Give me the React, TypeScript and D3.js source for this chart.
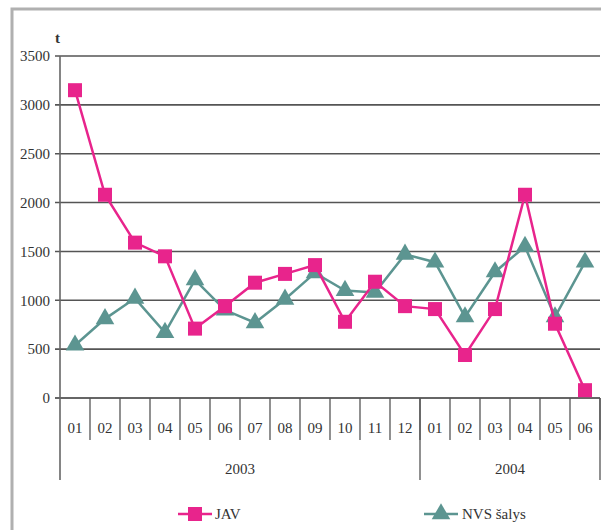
import React, { useRef, useEffect } from "react"
import * as d3 from "d3"

const months = ["01", "02", "03", "04", "05", "06", "07", "08", "09", "10", "11", "12", "01", "02", "03", "04", "05", "06"]
const years = [
  { label: "2003", count: 12 },
  { label: "2004", count: 6 },
]
const javValues = [3150, 2080, 1590, 1450, 710, 940, 1180, 1270, 1360, 780, 1190, 940, 910, 440, 910, 2080, 760, 80]
const nvsValues = [540, 810, 1020, 670, 1210, 900, 770, 1010, 1280, 1100, 1080, 1470, 1390, 830, 1290, 1550, 830, 1390]
const yTicks = [0, 500, 1000, 1500, 2000, 2500, 3000, 3500]

const PINK = "#e8248c"
const TEAL = "#5c9591"
const FONT = "'Liberation Serif', 'Times New Roman', serif"

const App: React.FC = () => {
  const svgRef = useRef<SVGSVGElement | null>(null)
  const width = 601
  const height = 530

  useEffect(() => {
    if (!svgRef.current) return
    const svg = d3.select(svgRef.current)
    svg.selectAll("*").remove()

    const margin = { left: 60, right: 1, top: 56, bottom: 132 }
    const plotW = width - margin.left - margin.right
    const plotH = height - margin.top - margin.bottom

    // outer frame
    svg.append("rect")
      .attr("x", 12).attr("y", 9)
      .attr("width", 620).attr("height", 560)
      .attr("fill", "none").attr("stroke", "#b0b0b0").attr("stroke-width", 3)

    const idx = months.map((_, i) => i)
    const x = d3.scaleBand<number>().domain(idx).range([0, plotW])
    const y = d3.scaleLinear().domain([0, 3500]).range([plotH, 0])

    const g = svg.append("g")
      .attr("transform", `translate(${margin.left},${margin.top})`)
      .style("font-family", FONT)

    // gridlines
    g.selectAll(".grid")
      .data(yTicks)
      .join("line")
      .attr("x1", -5).attr("x2", plotW)
      .attr("y1", (d) => y(d)).attr("y2", (d) => y(d))
      .attr("stroke", (d) => (d === 0 ? "#333" : "#555"))
      .attr("stroke-width", 1.6)

    // y labels
    g.selectAll(".ylab")
      .data(yTicks)
      .join("text")
      .attr("x", -10).attr("y", (d) => y(d))
      .attr("dy", "0.35em")
      .attr("text-anchor", "end")
      .attr("font-size", 15).attr("fill", "#333")
      .text((d) => d)

    g.append("text")
      .attr("x", -5).attr("y", -13)
      .attr("font-size", 15).attr("font-weight", "bold").attr("fill", "#333")
      .text("t")

    // left axis line
    g.append("line")
      .attr("x1", 0).attr("x2", 0).attr("y1", 0).attr("y2", plotH + 82)
      .attr("stroke", "#666").attr("stroke-width", 1.6)

    // month ticks
    g.selectAll(".mtick")
      .data(idx.slice(1).concat([months.length]))
      .join("line")
      .attr("x1", (d) => d * x.step()).attr("x2", (d) => d * x.step())
      .attr("y1", plotH).attr("y2", plotH + 42)
      .attr("stroke", "#555").attr("stroke-width", 1.3)

    g.selectAll(".mlab")
      .data(months)
      .join("text")
      .attr("x", (_, i) => (x(i) ?? 0) + x.bandwidth() / 2)
      .attr("y", plotH + 35)
      .attr("text-anchor", "middle")
      .attr("font-size", 15).attr("fill", "#333")
      .text((d) => d)

    // year separators and labels
    let start = 0
    years.forEach((yr) => {
      const end = start + yr.count
      g.append("line")
        .attr("x1", end * x.step()).attr("x2", end * x.step())
        .attr("y1", plotH).attr("y2", plotH + 82)
        .attr("stroke", "#555").attr("stroke-width", 1.3)
      g.append("text")
        .attr("x", ((start + end) / 2) * x.step())
        .attr("y", plotH + 76)
        .attr("text-anchor", "middle")
        .attr("font-size", 15).attr("fill", "#333")
        .text(yr.label)
      start = end
    })

    const cx = (i: number) => (x(i) ?? 0) + x.bandwidth() / 2
    const line = d3.line<number>().x((_, i) => cx(i)).y((d) => y(d))

    const tri = d3.symbol().type(d3.symbolTriangle).size(150)

    // NVS series
    g.append("path").datum(nvsValues)
      .attr("fill", "none").attr("stroke", TEAL).attr("stroke-width", 2.5).attr("d", line)
    g.selectAll(".nvs")
      .data(nvsValues)
      .join("path")
      .attr("d", tri)
      .attr("transform", (d, i) => `translate(${cx(i)},${y(d)})`)
      .attr("fill", TEAL)

    // JAV series
    g.append("path").datum(javValues)
      .attr("fill", "none").attr("stroke", PINK).attr("stroke-width", 2.5).attr("d", line)
    g.selectAll(".jav")
      .data(javValues)
      .join("rect")
      .attr("x", (_, i) => cx(i) - 7).attr("y", (d) => y(d) - 7)
      .attr("width", 14).attr("height", 14)
      .attr("fill", PINK)

    // legend
    const leg = svg.append("g").attr("transform", `translate(0,514)`).style("font-family", FONT)
    leg.append("line").attr("x1", 178).attr("x2", 212).attr("y1", 0).attr("y2", 0)
      .attr("stroke", PINK).attr("stroke-width", 2.5)
    leg.append("rect").attr("x", 188).attr("y", -7).attr("width", 14).attr("height", 14).attr("fill", PINK)
    leg.append("text").attr("x", 215).attr("y", 0).attr("dy", "0.35em")
      .attr("font-size", 15).attr("fill", "#333").text("JAV")

    leg.append("line").attr("x1", 424).attr("x2", 458).attr("y1", 0).attr("y2", 0)
      .attr("stroke", TEAL).attr("stroke-width", 2.5)
    leg.append("path").attr("d", tri).attr("transform", "translate(441,0)").attr("fill", TEAL)
    leg.append("text").attr("x", 462).attr("y", 0).attr("dy", "0.35em")
      .attr("font-size", 15).attr("fill", "#333").text("NVS šalys")
  }, [])

  return (
    <svg
      ref={svgRef}
      width={width}
      height={height}
      style={{ position: "absolute", left: 0, top: 0, background: "#fff" }}
    ></svg>
  )
}

export default App
